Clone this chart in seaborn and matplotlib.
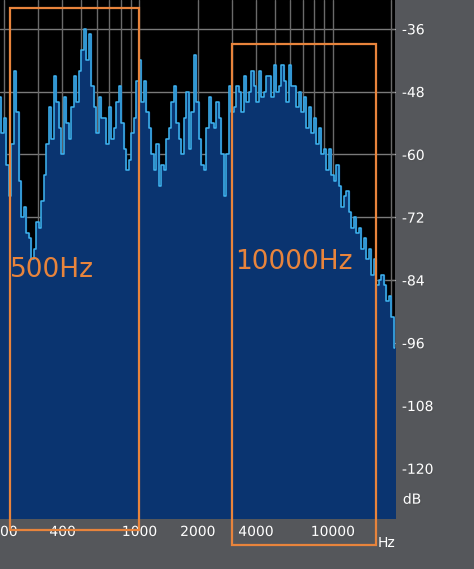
import numpy as np
import matplotlib.pyplot as plt
import seaborn as sns
from matplotlib.patches import Rectangle
import matplotlib.patheffects as pe

# spectrum level in dB, one value per analyser bin (log spaced 190 Hz .. 21 kHz)
levels = [-49, -56, -53, -62, -68, -58, -44, -52, -65, -72, -70, -75, -76, -80, -78, -73,
          -74, -69, -64, -58, -51, -57, -45, -50, -55, -60, -49, -54, -57, -51, -45, -50,
          -44, -40, -36, -42, -37, -47, -51, -56, -49, -53, -53, -58, -51, -57, -55, -50,
          -47, -54, -59, -63, -61, -56, -53, -46, -42, -50, -46, -52, -55, -60, -63, -58,
          -66, -62, -63, -57, -55, -50, -47, -54, -57, -60, -53, -48, -59, -52, -41, -50,
          -57, -62, -63, -55, -49, -54, -55, -50, -53, -60, -68, -60, -47, -52, -51, -47,
          -48, -52, -45, -50, -48, -44, -47, -50, -44, -49, -48, -45, -45, -49, -43, -48,
          -47, -43, -46, -50, -43, -47, -47, -51, -48, -52, -49, -55, -51, -56, -53, -58,
          -55, -60, -59, -63, -59, -64, -65, -62, -66, -70, -68, -67, -71, -74, -72, -75,
          -74, -78, -76, -80, -78, -83, -80, -85, -84, -83, -85, -88, -87, -91, -97]
freqs = np.geomspace(190, 21000, len(levels))
ytick_vals = [-36, -48, -60, -72, -84, -96, -108, -120]
xtick_vals = [200, 400, 1000, 2000, 4000, 10000]
xtick_labels = ['200', '400', '1000', '2000', '4000', '10000']

sns.set_style('dark')
fig = plt.figure(figsize=(4.74, 5.69), dpi=100, facecolor='#55575b')
W, H = 474, 569
ax = fig.add_axes([0, 51 / H, 395 / W, 518 / H])
ax.set_facecolor('black')
ax.set_xscale('log')
ax.set_xlim(190, 21000)
ax.set_ylim(-129.5, -30.5)

for y in ytick_vals:
    ax.axhline(y, color='#7a7a7a', lw=1, zorder=1)
for f in list(range(200, 1000, 100)) + list(range(1000, 10000, 1000)) + [10000, 20000]:
    ax.axvline(f, color='#6a6a6a', lw=1, zorder=1)

ax.fill_between(freqs, levels, -140, step='mid', color='#0a3470', zorder=2)
ax.step(freqs, levels, where='mid', color='#3fb4f0', lw=1.1, zorder=3)

ax.yaxis.tick_right()
ax.set_yticks(ytick_vals)
ax.set_yticklabels([str(v) for v in ytick_vals], color='white', fontsize=10,
                   path_effects=[pe.withSimplePatchShadow(offset=(1, -1))])
ax.text(1.02, (-126 + 129.5) / 99, 'dB', transform=ax.transAxes, color='white', fontsize=10,
        va='center', path_effects=[pe.withSimplePatchShadow(offset=(1, -1))])
ax.set_xticks(xtick_vals)
ax.set_xticklabels(xtick_labels, color='white', fontsize=10,
                   path_effects=[pe.withSimplePatchShadow(offset=(1, -1))])
ax.set_xticks([], minor=True)
ax.tick_params(axis='both', length=3, color='white', direction='in', pad=5)
ax.text(1.0, -0.035, 'Hz', transform=ax.transAxes, color='white', fontsize=10, ha='right', va='top')
for s in ax.spines.values():
    s.set_visible(False)

# orange boxes and labels in figure pixels
def box(x0, y0, x1, y1):
    fig.add_artist(Rectangle((x0 / W, 1 - y1 / H), (x1 - x0) / W, (y1 - y0) / H,
                             fill=False, ec='#e8843c', lw=1.6, transform=fig.transFigure, zorder=10))

box(10, 8, 139, 530)
box(232, 44, 376, 545)
fig.text(10 / W, 1 - 270 / H, '500Hz', color='#e8843c', fontsize=19, va='center')
fig.text(235 / W, 1 - 262 / H, '10000Hz', color='#e8843c', fontsize=19, va='center')

fig.savefig('out.png', dpi=100, facecolor=fig.get_facecolor())
